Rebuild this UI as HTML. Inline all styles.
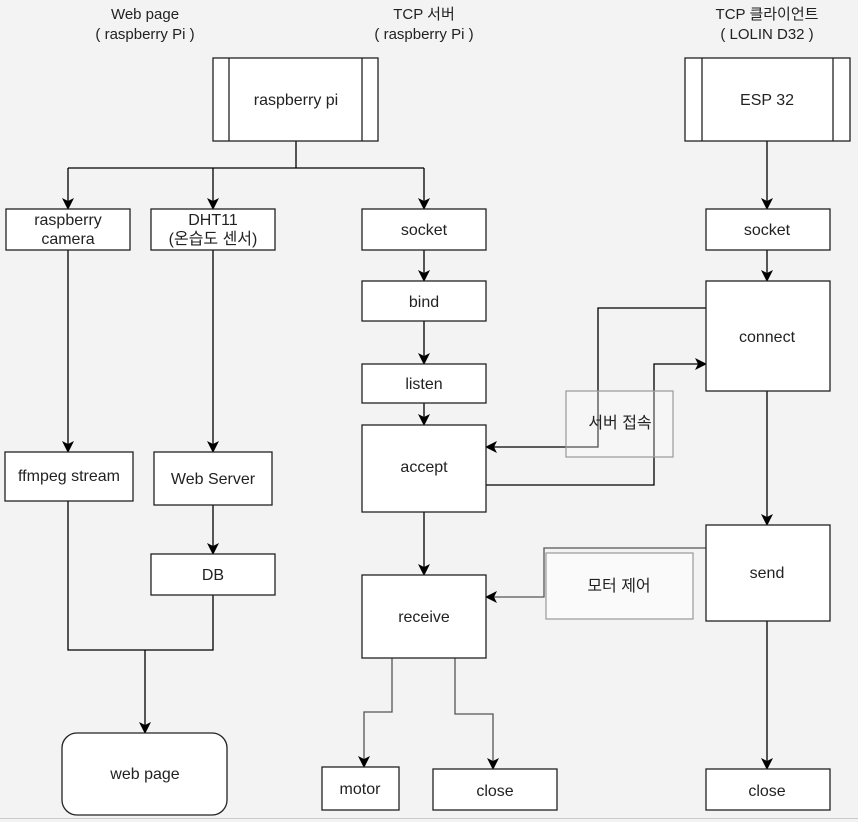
<!DOCTYPE html>
<html><head><meta charset="utf-8"><style>
body{margin:0;background:#f3f3f3;}
svg{display:block;font-family:"Liberation Sans","Noto Sans CJK KR",sans-serif;font-size:16px;}
</style></head><body>
<svg width="858" height="822" viewBox="0 0 858 822" xmlns="http://www.w3.org/2000/svg">
<defs><marker id="a" markerWidth="12" markerHeight="12" refX="11" refY="6" orient="auto" markerUnits="userSpaceOnUse"><path d="M0,0 L12,6 L0,12 L3,6 z" fill="#000"/></marker></defs>
<rect x="0" y="0" width="858" height="822" fill="#f3f3f3"/>
<line x1="0" y1="818.5" x2="858" y2="818.5" stroke="#ccc"/>
<g fill="#222" text-anchor="middle" font-size="15">
<text x="145" y="19">Web page</text><text x="145" y="39">( raspberry Pi )</text>
<text x="424" y="19">TCP 서버</text><text x="424" y="39">( raspberry Pi )</text>
<text x="767" y="19">TCP 클라이언트</text><text x="767" y="39">( LOLIN D32 )</text>
</g>
<g fill="none" stroke="#000" stroke-width="1.3">
<polyline points="296,141 296,168"/>
<polyline points="68,168 424,168"/>
<line x1="68" y1="168" x2="68" y2="209" marker-end="url(#a)"/>
<line x1="213" y1="168" x2="213" y2="209" marker-end="url(#a)"/>
<line x1="424" y1="168" x2="424" y2="209" marker-end="url(#a)"/>
<line x1="68" y1="250" x2="68" y2="452" marker-end="url(#a)"/>
<line x1="213" y1="250" x2="213" y2="452" marker-end="url(#a)"/>
<line x1="213" y1="505" x2="213" y2="554" marker-end="url(#a)"/>
<polyline points="68,501 68,650 213,650 213,595"/>
<line x1="145" y1="650" x2="145" y2="733" marker-end="url(#a)"/>
<line x1="424" y1="250" x2="424" y2="281" marker-end="url(#a)"/>
<line x1="424" y1="321" x2="424" y2="364" marker-end="url(#a)"/>
<line x1="424" y1="403" x2="424" y2="425" marker-end="url(#a)"/>
<line x1="424" y1="512" x2="424" y2="575" marker-end="url(#a)"/>
<polyline points="392,658 392,712 364,712 364,767" stroke="#555" marker-end="url(#a)"/>
<polyline points="455,658 455,714 493,714 493,769" stroke="#555" marker-end="url(#a)"/>
<line x1="767" y1="141" x2="767" y2="209" marker-end="url(#a)"/>
<line x1="767" y1="250" x2="767" y2="281" marker-end="url(#a)"/>
<line x1="767" y1="391" x2="767" y2="525" marker-end="url(#a)"/>
<line x1="767" y1="621" x2="767" y2="769" marker-end="url(#a)"/>
<polyline points="706,308 598,308 598,447 486,447" marker-end="url(#a)"/>
<polyline points="486,485 654,485 654,364 706,364" marker-end="url(#a)"/>
<polyline points="706,548 544,548 544,597 486,597" stroke="#555" marker-end="url(#a)"/>
</g>
<g fill="#fff" stroke="#222" stroke-width="1.3">
<rect x="213" y="58" width="165" height="83"/>
<line x1="229" y1="58" x2="229" y2="141"/><line x1="362" y1="58" x2="362" y2="141"/>
<rect x="685" y="58" width="165" height="83"/>
<line x1="702" y1="58" x2="702" y2="141"/><line x1="833" y1="58" x2="833" y2="141"/>
<rect x="6" y="209" width="124" height="41"/>
<rect x="151" y="209" width="124" height="41"/>
<rect x="362" y="209" width="124" height="41"/>
<rect x="362" y="281" width="124" height="40"/>
<rect x="362" y="364" width="124" height="39"/>
<rect x="362" y="425" width="124" height="87"/>
<rect x="362" y="575" width="124" height="83"/>
<rect x="322" y="767" width="77" height="43"/>
<rect x="433" y="769" width="124" height="41"/>
<rect x="706" y="209" width="124" height="41"/>
<rect x="706" y="281" width="124" height="110"/>
<rect x="706" y="525" width="124" height="96"/>
<rect x="706" y="769" width="124" height="41"/>
<rect x="5" y="452" width="128" height="49"/>
<rect x="154" y="452" width="118" height="53"/>
<rect x="151" y="554" width="124" height="41"/>
<rect x="62" y="733" width="165" height="82" rx="15"/>
</g>
<rect x="566" y="391" width="107" height="66" fill="#fff" fill-opacity="0.3" stroke="#999" stroke-width="1.2"/>
<rect x="546" y="553" width="147" height="66" fill="#fafafa" stroke="#999" stroke-width="1.2"/>
<g fill="#222" text-anchor="middle">
<text x="296" y="105">raspberry pi</text>
<text x="767" y="105">ESP 32</text>
<text x="68" y="225">raspberry</text><text x="68" y="244">camera</text>
<text x="213" y="225">DHT11</text><text x="213" y="244">(온습도 센서)</text>
<text x="424" y="235">socket</text>
<text x="424" y="307">bind</text>
<text x="424" y="389">listen</text>
<text x="424" y="472">accept</text>
<text x="424" y="622">receive</text>
<text x="360" y="794">motor</text>
<text x="495" y="796">close</text>
<text x="767" y="235">socket</text>
<text x="767" y="342">connect</text>
<text x="767" y="578">send</text>
<text x="767" y="796">close</text>
<text x="69" y="481">ffmpeg stream</text>
<text x="213" y="484">Web Server</text>
<text x="213" y="580">DB</text>
<text x="145" y="779">web page</text>
<text x="620" y="428">서버 접속</text>
<text x="619" y="591">모터 제어</text>
</g>
</svg>
</body></html>
